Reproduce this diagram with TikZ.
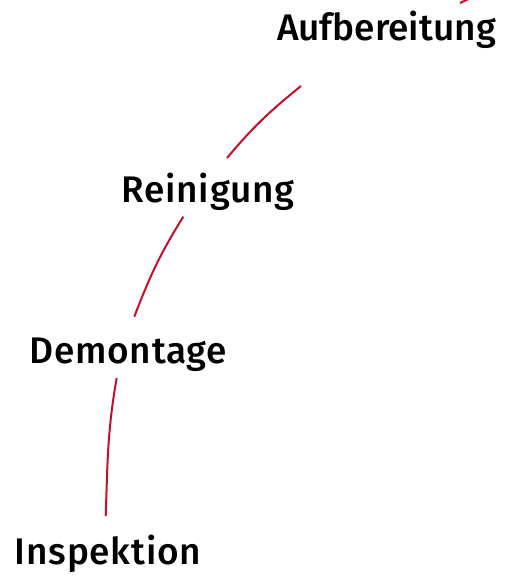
\documentclass[tikz,border=0pt]{standalone}
\usepackage{fontspec}
\setmainfont{Fira Sans}[UprightFont=* Medium, LetterSpace=2]
\definecolor{linered}{RGB}{196,14,42}
\tikzset{
  label/.style={font=\fontsize{37}{40}\selectfont, text=black, anchor=base, inner sep=0pt},
  tight/.style={font=\fontsize{37}{40}\selectfont\addfontfeatures{LetterSpace=0}},
  link/.style={draw=linered, line width=2pt}
}
\begin{document}
\begin{tikzpicture}[x=1pt,y=1pt]
\useasboundingbox (0,0) rectangle (520,577);
\clip (0,0) rectangle (520,577);
\node[label, tight] (auf) at (386.5,536) {Aufbereitung};
\node[label] (rei) at (208,374.3) {Reinigung};
\node[label] (dem) at (128.3,213.7) {Demontage};
\node[label] (ins) at (108,12.7) {Inspektion};
\coordinate (off) at (490,588);
\draw[link] ([shift={(-2.3,48.3)}]ins.base) to[out=88,in=-100] ([shift={(-11.6,-14.7)}]dem.base);
\draw[link] ([shift={(6,46.6)}]dem.base) to[out=69,in=-122] ([shift={(-24.7,-14)}]rei.base);
\draw[link] ([shift={(19,44.7)}]rei.base) to[out=50,in=-141] ([shift={(-85.5,-45)}]auf.base);
\draw[link] ([shift={(73.5,38)}]auf.base) to[out=25,in=-155] (off);
\end{tikzpicture}
\end{document}
